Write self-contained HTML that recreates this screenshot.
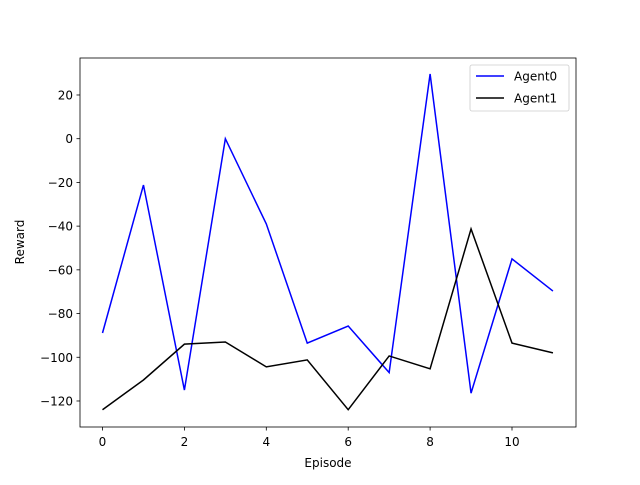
<!DOCTYPE html>
<html><head><meta charset="utf-8"><style>
body{margin:0;background:#fff;}
svg text{font-family:"DejaVu Sans","Liberation Sans",sans-serif;font-size:12px;fill:#000;}
</style></head><body>
<svg id="chart" width="640" height="480" xmlns="http://www.w3.org/2000/svg"></svg>
<script>
const episodes=[0,1,2,3,4,5,6,7,8,9,10,11];
const agent0=[-88.9,-21.2,-115,0,-39,-93.5,-85.7,-107,29.6,-116.4,-55,-69.7];
const agent1=[-124,-110.4,-94,-93,-104.4,-101.2,-124,-99.4,-105.3,-41.3,-93.5,-98];
const xTicks=[0,2,4,6,8,10];
const yTicks=[-120,-100,-80,-60,-40,-20,0,20];
const NS="http://www.w3.org/2000/svg";
const svg=document.getElementById('chart');
const L=80,R=576,T=58,B=427;
const xs=v=>102.5+v*40.95;
const ys=v=>138.7-v*2.1857;
function el(tag,attrs,parent){const e=document.createElementNS(NS,tag);for(const k in attrs)e.setAttribute(k,attrs[k]);(parent||svg).appendChild(e);return e;}
const frame=el('rect',{x:L,y:T,width:R-L,height:B-T,fill:'none',stroke:'#000','stroke-width':0.8});


xTicks.forEach(t=>{
  const l=el('line',{x1:xs(t),x2:xs(t),y1:B,y2:B+3.5,stroke:'#000','stroke-width':0.8});
  
  
  const tx=el('text',{x:xs(t),y:B+19,'text-anchor':'middle'});tx.textContent=t;
  
  
});
yTicks.forEach(t=>{
  const l=el('line',{x1:L-3.5,x2:L,y1:ys(t),y2:ys(t),stroke:'#000','stroke-width':0.8});
  
  
  const tx=el('text',{x:L-7,y:ys(t)+4.5,'text-anchor':'end'});tx.textContent=(t<0?'\u2212'+(-t):t);
  
  
});
function series(data,color,name){
  const p=el('polyline',{points:data.map((v,i)=>xs(episodes[i])+','+ys(v)).join(' '),fill:'none',stroke:color,'stroke-width':1.5});
  
  
}
series(agent0,'#0000ff','agent0-line');
series(agent1,'#000000','agent1-line');
const xl=el('text',{x:328,y:467,'text-anchor':'middle'});xl.textContent='Episode';


const yl=el('text',{x:24,y:242,'text-anchor':'middle',transform:'rotate(-90 24 242)'});yl.textContent='Reward';


const g=el('g',{});


el('rect',{x:470,y:65,width:99,height:46,rx:2,fill:'#fff',stroke:'#ccc','stroke-width':0.8},g);
[['Agent0','#0000ff',80],['Agent1','#000',102]].forEach(([n,c,y])=>{
  const e=el('g',{},g);
  
  
  el('line',{x1:476,x2:504,y1:y-4,y2:y-4,stroke:c,'stroke-width':1.5},e);
  const t=el('text',{x:514,y:y+0.5},e);t.textContent=n;
});
</script>
</body></html>
